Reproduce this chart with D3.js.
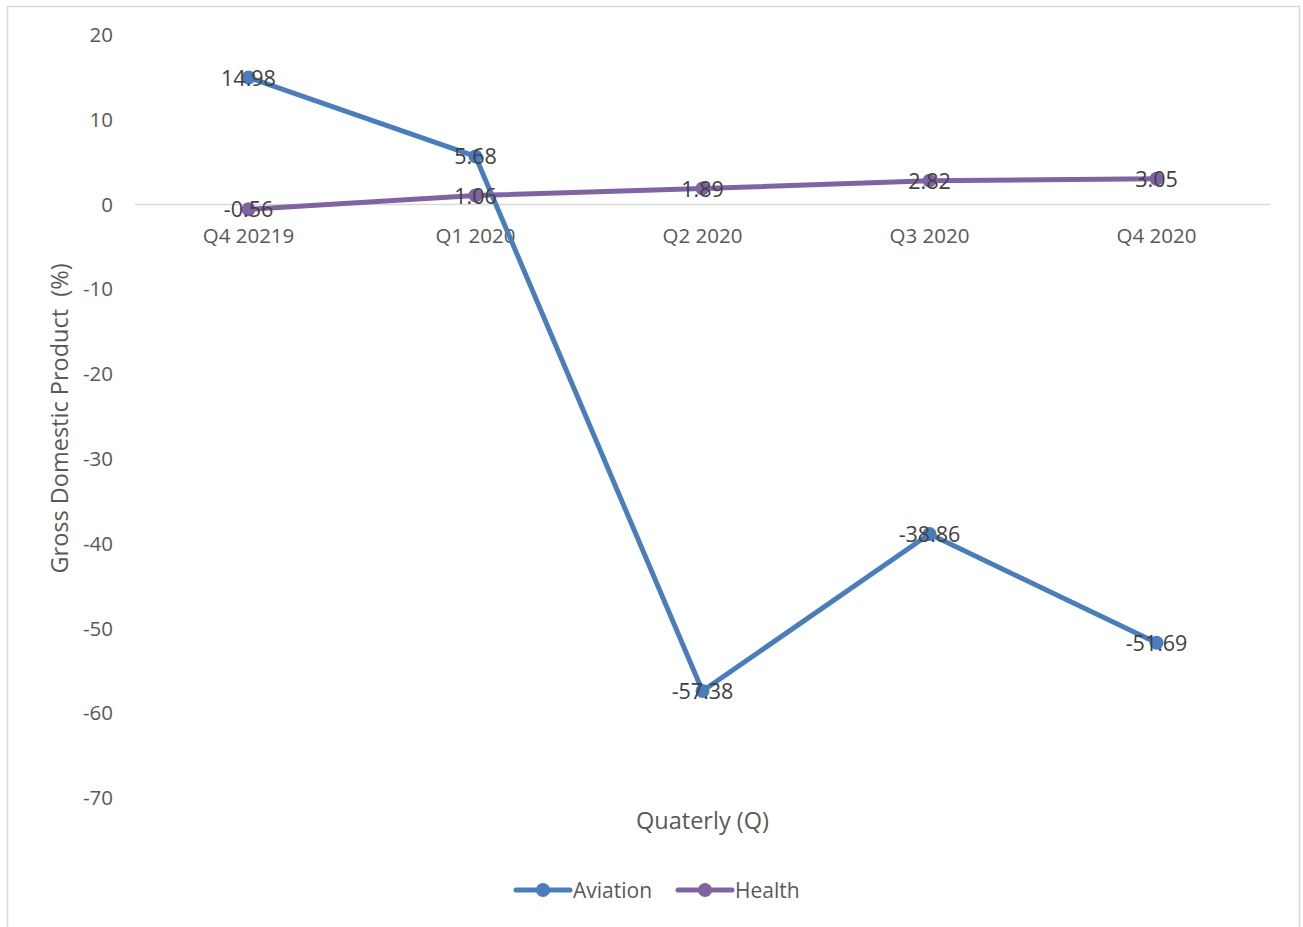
<!DOCTYPE html>
<html>
<head>
<meta charset="utf-8">
<script src="https://cdn.jsdelivr.net/npm/d3@7/dist/d3.min.js"></script>
<style>
  html, body { margin: 0; padding: 0; background: #fff; }
  svg { display: block; font-family: "Open Sans", "Liberation Sans", sans-serif; }
</style>
</head>
<body>
<svg id="chart" width="1303" height="927"></svg>
<script>
// Quarterly GDP change by sector
const quarters = ["Q4 20219", "Q1 2020", "Q2 2020", "Q3 2020", "Q4 2020"];
const aviation = [14.98, 5.68, -57.38, -38.86, -51.69];
const health = [-0.56, 1.06, 1.89, 2.82, 3.05];
const yTicks = [20, 10, 0, -10, -20, -30, -40, -50, -60, -70];

const series = [
  { name: "Aviation", values: aviation, color: "#4a7ebb" },
  { name: "Health", values: health, color: "#8064a2" }
];

const svg = d3.select("#chart");
const plot = { left: 135, right: 1270, top: 35, bottom: 798 };
const hyphenFmt = v => String(v);

// Outer chart frame
svg.append("rect")
  .attr("x", 7.5).attr("y", 6.5)
  .attr("width", 1292).attr("height", 940)
  .attr("fill", "#fff").attr("stroke", "#d9d9d9").attr("stroke-width", 1.5);

const x = d3.scaleBand().domain(quarters).range([plot.left, plot.right]);
const y = d3.scaleLinear().domain([-70, 20]).range([plot.bottom, plot.top]);
const cx = d => x(d) + x.bandwidth() / 2;

// Y axis tick labels (no axis line)
const yAxis = d3.axisLeft(y).tickValues(yTicks).tickFormat(hyphenFmt).tickSize(0).tickPadding(0);
const gy = svg.append("g").attr("transform", `translate(${plot.left - 22},0)`).call(yAxis);
gy.select(".domain").remove();
gy.selectAll("text")
  .attr("fill", "#595959").attr("font-size", 20.5)
  .attr("font-family", "'Open Sans', sans-serif");

// Zero baseline with category labels just below
svg.append("line")
  .attr("x1", plot.left).attr("x2", plot.right)
  .attr("y1", y(0)).attr("y2", y(0))
  .attr("stroke", "#d9d9d9").attr("stroke-width", 1.5);

const xAxis = d3.axisBottom(x).tickSize(0).tickPadding(0);
const gx = svg.append("g").attr("transform", `translate(0,${y(0) + 24})`).call(xAxis);
gx.select(".domain").remove();
gx.selectAll("text")
  .attr("fill", "#595959").attr("font-size", 20.5)
  .attr("font-family", "'Open Sans', sans-serif");

// Axis titles
svg.append("text")
  .attr("transform", `translate(68,${(plot.top + plot.bottom) / 2 + 2}) rotate(-90)`)
  .attr("text-anchor", "middle")
  .attr("xml:space", "preserve")
  .style("white-space", "pre")
  .attr("fill", "#595959").attr("font-size", 23.5)
  .text("Gross Domestic Product  (%)");

svg.append("text")
  .attr("x", (plot.left + plot.right) / 2).attr("y", 829)
  .attr("text-anchor", "middle")
  .attr("fill", "#595959").attr("font-size", 23.5)
  .text("Quaterly (Q)");

// Series lines and markers
const line = d3.line().x((d, i) => cx(quarters[i])).y(d => y(d));

series.forEach(s => {
  const g = svg.append("g");
  g.append("path")
    .datum(s.values)
    .attr("d", line)
    .attr("fill", "none")
    .attr("stroke", s.color)
    .attr("stroke-width", 5)
    .attr("stroke-linejoin", "round")
    .attr("stroke-linecap", "round");
  g.selectAll("circle")
    .data(s.values)
    .join("circle")
    .attr("cx", (d, i) => cx(quarters[i]))
    .attr("cy", d => y(d))
    .attr("r", 7)
    .attr("fill", s.color);
});

// Data labels centred on each point
series.forEach(s => {
  svg.append("g").selectAll("text")
    .data(s.values)
    .join("text")
    .attr("x", (d, i) => cx(quarters[i]))
    .attr("y", d => y(d) + 8)
    .attr("text-anchor", "middle")
    .attr("fill", "#404040").attr("font-size", 21.5)
    .text(d => d.toFixed(2));
});

// Legend
const legendItems = [
  { s: series[0], x0: 516 },
  { s: series[1], x0: 678 }
];
legendItems.forEach(({ s, x0 }) => {
  const g = svg.append("g").attr("transform", `translate(${x0},890)`);
  g.append("line")
    .attr("x1", 0).attr("x2", 54).attr("y1", 0).attr("y2", 0)
    .attr("stroke", s.color).attr("stroke-width", 5).attr("stroke-linecap", "round");
  g.append("circle").attr("cx", 27).attr("cy", 0).attr("r", 7).attr("fill", s.color);
  g.append("text")
    .attr("x", 57).attr("y", 8)
    .attr("fill", "#595959").attr("font-size", 21)
    .text(s.name);
});
</script>
</body>
</html>
